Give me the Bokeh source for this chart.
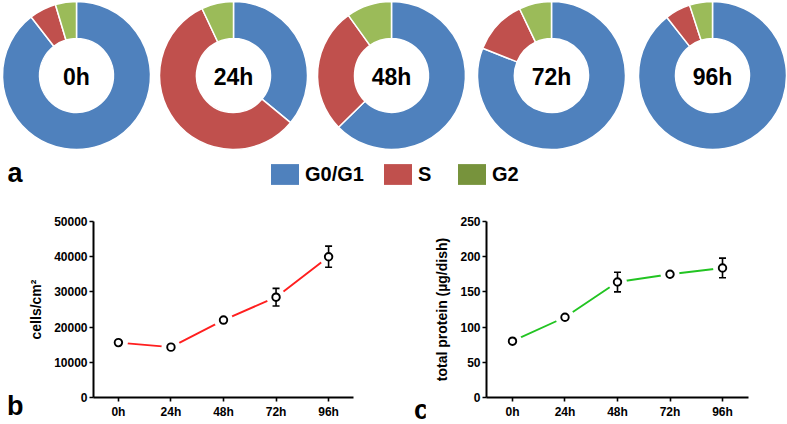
import math
from bokeh.plotting import figure
from bokeh.models import (Range1d, FixedTicker, Legend, LegendItem,
                          ColumnDataSource, NumeralTickFormatter, Div)
from bokeh.layouts import column, row
from bokeh.embed import file_html
from bokeh.resources import INLINE
from bokeh.core.properties import value

# ---------------- data ----------------
times = ["0h", "24h", "48h", "72h", "96h"]
phases = ["G0/G1", "S", "G2"]
g0g1 = [89.5, 36.0, 62.7, 81.0, 89.4]
s_phase = [5.9, 57.0, 27.4, 11.9, 5.6]
g2 = [4.6, 7.0, 9.9, 7.1, 5.0]

cells = [15600, 14300, 22000, 28500, 40000]
cells_err = [0, 0, 0, 2500, 3000]
cell_ticks = [0, 10000, 20000, 30000, 40000, 50000]

protein = [80, 114, 164, 175, 184]
protein_err = [0, 0, 14, 0, 14]
protein_ticks = [0, 50, 100, 150, 200, 250]

# ---------------- styles ----------------
FONT = "Liberation Sans"
pie_colors = ["#4F81BD", "#C0504D", "#9BBB59"]
legend_colors = ["#4F81BD", "#C0504D", "#77933C"]

# ---------------- panel a (donuts) ----------------
top = figure(width=787, height=195, x_range=Range1d(0, 787), y_range=Range1d(0, 195),
             output_backend="svg", toolbar_location=None,
             x_axis_location=None, y_axis_location=None, min_border=0,
             outline_line_color=None)
top.grid.visible = False

centers_x = [76, 233, 391, 551, 712]
center_y = 120
wx, wy, ws, we, wc = [], [], [], [], []
for i in range(len(times)):
    vals = [g0g1[i], s_phase[i], g2[i]]
    tot = sum(vals)
    cum = 0.0
    for v, col in zip(vals, pie_colors):
        a0 = math.pi / 2 - 2 * math.pi * cum / tot
        cum += v
        a1 = math.pi / 2 - 2 * math.pi * cum / tot
        wx.append(centers_x[i]); wy.append(center_y)
        ws.append(a0); we.append(a1); wc.append(col)
wsrc = ColumnDataSource(dict(x=wx, y=wy, start=ws, end=we, color=wc))
top.annular_wedge(x="x", y="y", inner_radius=37, outer_radius=74,
                  start_angle="start", end_angle="end", direction="clock",
                  fill_color="color", line_color="white", line_width=1.5, source=wsrc)
top.text(x=centers_x, y=[center_y - 1] * len(times), text=times,
         text_font=value(FONT), text_font_style="bold", text_font_size="23px",
         text_align="center", text_baseline="middle", text_color="black")

nan = float("nan")
items = []
for name, col in zip(phases, legend_colors):
    r = top.quad(left=[nan], right=[nan], top=[nan], bottom=[nan],
                 fill_color=col, line_color=None)
    items.append(LegendItem(label=name, renderers=[r]))
legend = Legend(items=items, orientation="horizontal", location=(267, 8),
                glyph_width=35, glyph_height=26, label_standoff=3, spacing=16,
                padding=0, margin=0, border_line_color=None, background_fill_alpha=0,
                label_text_font=FONT, label_text_font_style="bold",
                label_text_font_size="20px", label_text_color="black", label_height=26)
top.add_layout(legend)
top.text(x=[7], y=[22.5], text=["a"], text_font=value(FONT), text_font_style="bold",
         text_font_size="27px", text_baseline="middle", text_color="black")


def style_axes(p, yticks, ylabel):
    p.grid.visible = False
    p.xaxis.ticker = FixedTicker(ticks=list(range(len(times))))
    p.xaxis.major_label_overrides = {i: t for i, t in enumerate(times)}
    p.yaxis.ticker = FixedTicker(ticks=yticks)
    p.yaxis.formatter = NumeralTickFormatter(format="0")
    for ax in (p.xaxis, p.yaxis):
        ax.axis_line_width = 2
        ax.axis_line_color = "black"
        ax.major_tick_line_width = 1.6
        ax.major_tick_line_color = "black"
        ax.major_tick_out = 4
        ax.major_tick_in = 0
        ax.minor_tick_out = 0
        ax.minor_tick_in = 0
        ax.major_label_text_font = FONT
        ax.major_label_text_font_style = "bold"
        ax.major_label_text_font_size = "12px"
        ax.major_label_text_color = "black"
    p.xaxis.major_label_standoff = 3
    p.yaxis.major_label_standoff = 2
    p.yaxis.axis_label = ylabel
    p.yaxis.axis_label_text_font = FONT
    p.yaxis.axis_label_text_font_style = "bold"
    p.yaxis.axis_label_text_font_size = "14px"
    p.yaxis.axis_label_text_color = "black"
    p.yaxis.axis_label_standoff = 7


def draw_series(p, vals, errs, color, cap_size=7):
    xs = list(range(len(vals)))
    p.line(xs, vals, line_color=color, line_width=1.9)
    p.scatter(xs, vals, size=19, fill_color="white", line_color=None)
    ex = [x for x, e in zip(xs, errs) if e > 0]
    ev = [v for v, e in zip(vals, errs) if e > 0]
    ee = [e for e in errs if e > 0]
    lo = [v - e for v, e in zip(ev, ee)]
    hi = [v + e for v, e in zip(ev, ee)]
    p.segment(x0=ex, y0=lo, x1=ex, y1=hi, line_color="black", line_width=1.6)
    p.scatter(ex + ex, lo + hi, marker="dash", size=cap_size, line_color="black", line_width=1.6)
    p.scatter(xs, vals, size=7.5, fill_color="white", line_color="black", line_width=1.9)


def panel_letter(letter, width, left, top_pad):
    return Div(text=f'<div style="padding-top:{top_pad}px;padding-left:{left}px;'
                    f'font-family:\'{FONT}\';font-weight:bold;font-size:27px;'
                    f'line-height:27px;color:black;">{letter}</div>',
               width=width, height=229, margin=0)


# ---------------- panel b ----------------
pb = figure(width=370, height=229, x_range=Range1d(-0.474, 4.474), y_range=Range1d(0, 50000),
            output_backend="svg", toolbar_location=None,
            min_border_left=67, min_border_right=42, min_border_top=26, min_border_bottom=27,
            outline_line_color=None)
style_axes(pb, cell_ticks, "cells/cm²")
draw_series(pb, cells, cells_err, "#FF1F1F")

# ---------------- panel c ----------------
pc = figure(width=362, height=229, x_range=Range1d(-0.495, 4.495), y_range=Range1d(0, 250),
            output_backend="svg", toolbar_location=None,
            min_border_left=61, min_border_right=39, min_border_top=26, min_border_bottom=27,
            outline_line_color=None)
style_axes(pc, protein_ticks, "total protein (µg/dish)")
draw_series(pc, protein, protein_err, "#22C422")

div_b = panel_letter("b", 25, 7, 198)
div_c = panel_letter("c", 30, 19, 202)

layout = column(top, row(div_b, pb, div_c, pc, spacing=0), spacing=0)
open("out.html", "w").write(file_html(layout, INLINE))
